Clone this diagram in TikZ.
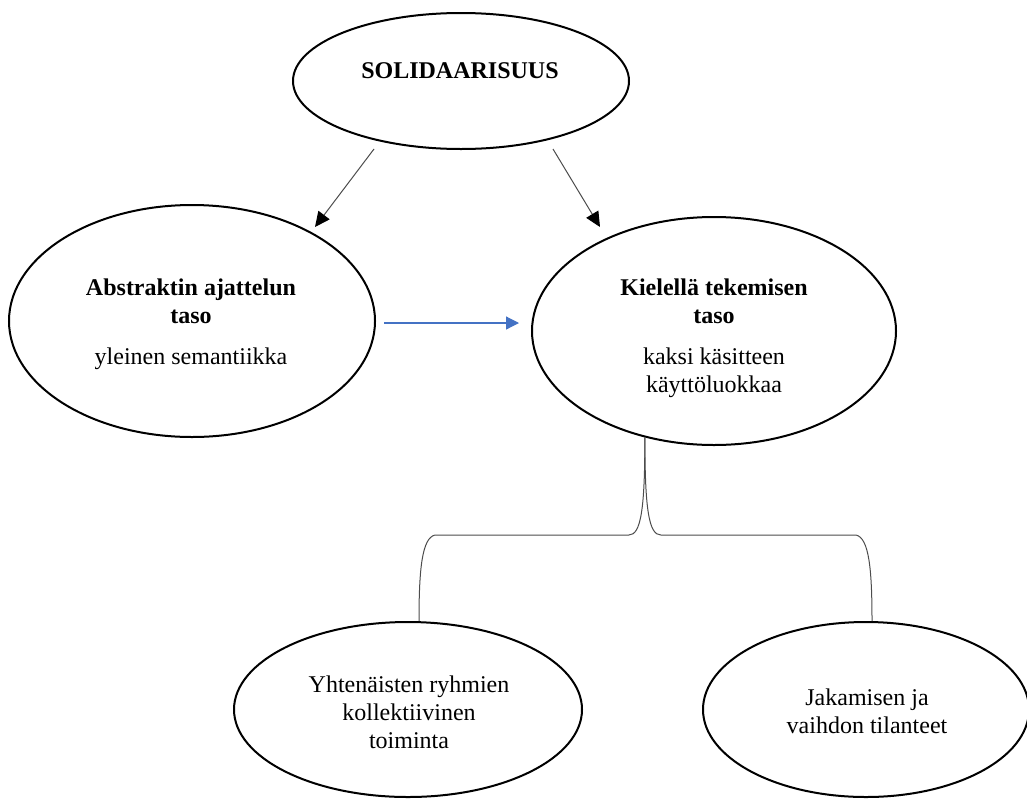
\documentclass[tikz,border=0pt]{standalone}
\usepackage{fontspec}
\setmainfont{Liberation Serif}
\usetikzlibrary{shapes.geometric,arrows.meta,calc}
\definecolor{wordblue}{HTML}{4472C4}
\begin{document}
\begin{tikzpicture}[x=0.5pt,y=-0.5pt,
  oval/.style={draw=black,line width=1pt,ellipse,inner sep=0pt},
  lbl/.style={align=center,inner sep=0pt,font=\fontsize{12}{14}\selectfont},
  arr/.style={draw=black!70,line width=0.5pt,-{Triangle[length=7.5pt,width=7pt,color=black]}},
  bluearr/.style={draw=wordblue,line width=0.6pt,-{Triangle[length=6.5pt,width=6.5pt,color=wordblue]}},
  bracket/.style={draw=black!70,line width=0.5pt}]
\useasboundingbox (0,0) rectangle (1027,798);

% ellipses
\node[oval,minimum width=168pt,minimum height=68pt] (sol) at (461,81) {};
\node[lbl,font=\fontsize{12}{14}\selectfont\bfseries] (solt) at (460,71) {SOLIDAARISUUS};

\node[oval,minimum width=183pt,minimum height=116pt] (abs) at (192,321) {};
\node[lbl] (abst) at (191,324) {\textbf{Abstraktin ajattelun}\\\textbf{taso}\\[6.5pt]yleinen semantiikka};

\node[oval,minimum width=182pt,minimum height=114pt] (kie) at (714,331) {};
\node[lbl] (kiet) at (714,338) {\textbf{Kielellä tekemisen}\\\textbf{taso}\\[6.5pt]kaksi käsitteen\\käyttöluokkaa};

\node[oval,minimum width=174pt,minimum height=87.5pt] (yht) at (408,709.5) {};
\node[lbl] (yhtt) at (409,712) {Yhtenäisten ryhmien\\kollektiivinen\\toiminta};

\node[oval,minimum width=163pt,minimum height=87.5pt] (jak) at (866,709.5) {};
\node[lbl] (jakt) at (867,711) {Jakamisen ja\\vaihdon tilanteet};

% arrows from the top ellipse
\coordinate (a1s) at ($(sol.center)+(-87,68)$);
\coordinate (a1e) at ($(abs.center)+(123,-94)$);
\coordinate (a2s) at ($(sol.center)+(92,68)$);
\coordinate (a2e) at ($(kie.center)+(-114,-104)$);
\draw[arr] (a1s) -- (a1e);
\draw[arr] (a2s) -- (a2e);

% blue arrow
\coordinate (b1) at ($(abs.east)+(8,2)$);
\coordinate (b2) at ($(kie.west)+(-12,-8)$);
\draw[bluearr] (b1) -- (b2);

% brace
\coordinate (s) at (kie.237.6);
\coordinate (l) at ($(yht.north)+(11,0)$);
\coordinate (r) at ($(jak.north)+(6,0)$);
\coordinate (mid) at (0,535);
\draw[bracket] (s) .. controls ($(s)+(0,72)$) and ($(s|-mid)+(-4,0)$) .. ($(s|-mid)+(-16,0)$)
  -- ($(l|-mid)+(16,0)$) .. controls ($(l|-mid)+(3,3)$) and ($(l)+(0,-52)$) .. (l);
\draw[bracket] (s) .. controls ($(s)+(0,72)$) and ($(s|-mid)+(4,0)$) .. ($(s|-mid)+(16,0)$)
  -- ($(r|-mid)+(-16,0)$) .. controls ($(r|-mid)+(-3,3)$) and ($(r)+(0,-52)$) .. (r);
\end{tikzpicture}
\end{document}
